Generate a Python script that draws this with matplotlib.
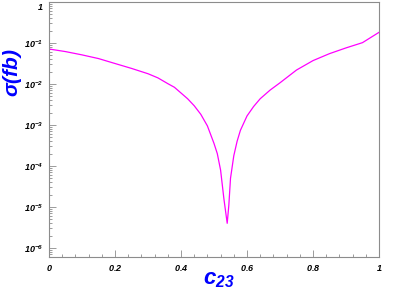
import numpy as np
import matplotlib.pyplot as plt
from matplotlib.ticker import FixedLocator, MultipleLocator, LogLocator, NullFormatter, FuncFormatter

plt.rcParams['font.family'] = ['Liberation Sans', 'DejaVu Sans']
plt.rcParams['mathtext.fontset'] = 'custom'
plt.rcParams['mathtext.rm'] = 'Liberation Sans:bold:italic'
plt.rcParams['mathtext.it'] = 'Liberation Sans:bold:italic'
plt.rcParams['mathtext.bf'] = 'Liberation Sans:bold:italic'

# values
c23 = [0.0, 0.05, 0.1, 0.15, 0.2, 0.25, 0.3, 0.33, 0.36, 0.38, 0.40, 0.42, 0.44,
       0.46, 0.48, 0.50, 0.51, 0.52, 0.53, 0.54, 0.545, 0.55, 0.56, 0.57, 0.58,
       0.60, 0.62, 0.64, 0.67, 0.70, 0.75, 0.80, 0.85, 0.90, 0.95, 1.0]
sigma = [0.0714, 0.0617, 0.0513, 0.0417, 0.0316, 0.0240, 0.0178, 0.0141, 0.0102,
         0.00832, 0.00603, 0.00437, 0.00295, 0.00182, 9.5e-4, 3.55e-4, 2.0e-4,
         7.9e-5, 1.58e-5, 4.0e-6, 1.12e-5, 5.0e-5, 1.78e-4, 4.0e-4, 7.4e-4,
         1.66e-3, 2.82e-3, 4.37e-3, 7.1e-3, 0.0107, 0.0219, 0.0372, 0.055,
         0.0759, 0.102, 0.182]

x_ticks = [0, 0.2, 0.4, 0.6, 0.8, 1]
x_ticklabels = ['$0$', '$0.2$', '$0.4$', '$0.6$', '$0.8$', '$1$']
y_ticks = [1e-6, 1e-5, 1e-4, 1e-3, 1e-2, 1e-1, 1]

fig = plt.figure(figsize=(3.95, 2.95), dpi=100)
ax = fig.add_axes([49 / 395, 1 - 257 / 295, 330 / 395, 255 / 295])

ax.plot(c23, sigma, color='#ff00ff', lw=0.9)

ax.set_yscale('log')
ax.set_xlim(0, 1)
ax.set_ylim(10 ** -6.22, 1)

ax.xaxis.set_major_locator(FixedLocator(x_ticks))
ax.set_xticklabels(x_ticklabels)
ax.xaxis.set_minor_locator(MultipleLocator(0.04))
ax.yaxis.set_major_locator(FixedLocator(y_ticks))
ax.yaxis.set_minor_locator(LogLocator(base=10, subs=np.arange(2, 10), numticks=20))
ax.yaxis.set_minor_formatter(NullFormatter())


def ylab(v, pos):
    e = int(round(np.log10(v)))
    if e == 0:
        return r'$1$'
    return r'$10^{%d}$' % e


ax.yaxis.set_major_formatter(FuncFormatter(ylab))

for s in ax.spines.values():
    s.set_color('#8c8c8c')
    s.set_linewidth(0.8)
ax.tick_params(which='both', direction='in', color='#8c8c8c', width=0.6,
               top=False, right=False)
ax.tick_params(which='major', length=5, labelsize=6.5, pad=4)
ax.tick_params(which='minor', length=2.5)

# keep the top "1" inside the figure
ax.yaxis.get_major_ticks()[-1].label1.set_va('top')

fig.text(13 / 395, 1 - 73 / 295, r'$\sigma$(fb)', rotation=90, color='#0000ff',
         fontsize=15, fontweight='bold', fontstyle='italic', ha='center', va='center')
fig.text(203 / 395, 1 - 279 / 295, r'$c_{23}$', color='#0000ff', fontsize=16,
         ha='left', va='center')

fig.savefig('out.png', dpi=100)
